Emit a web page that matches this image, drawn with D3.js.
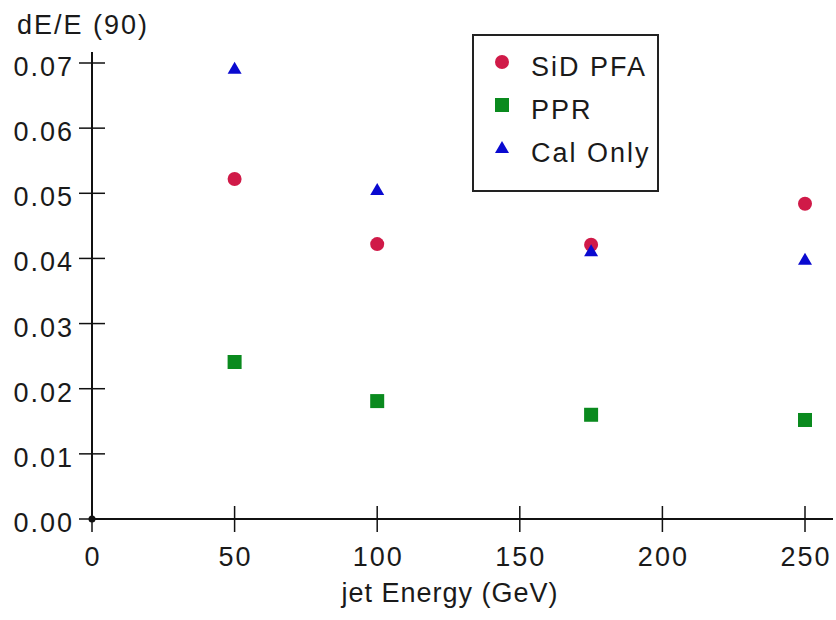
<!DOCTYPE html>
<html>
<head>
<meta charset="utf-8">
<script src="https://cdn.jsdelivr.net/npm/d3@7"></script>
<style>
  body { margin: 0; background: #fff; }
  text { font-family: "Liberation Sans", Arial, sans-serif; fill: #1a1a1a; letter-spacing: 2px; }
</style>
</head>
<body>
<div id="chart"></div>
<script>
// données
const energies = [50, 100, 175, 250];
const sidPfa = [0.0522, 0.0422, 0.0421, 0.0484];
const ppr = [0.0241, 0.0181, 0.0160, 0.0152];
const calOnly = [0.0691, 0.0505, 0.0411, 0.0398];
const xTicks = [0, 50, 100, 150, 200, 250];
const yTicks = [0, 0.01, 0.02, 0.03, 0.04, 0.05, 0.06, 0.07];

const series = [
  { name: 'SiD PFA', values: sidPfa, color: '#d01a48', shape: 'circle' },
  { name: 'PPR', values: ppr, color: '#0a8a1e', shape: 'square' },
  { name: 'Cal Only', values: calOnly, color: '#0a0ad0', shape: 'triangle' }
];

const width = 836, height = 620;
const fontSize = 27;

const svg = d3.select('#chart').append('svg')
  .attr('width', width)
  .attr('height', height);

const x = d3.scaleLinear().domain([0, 250]).range([92, 805]);
const y = d3.scaleLinear().domain([0, 0.07]).range([519, 63]);

// axes
svg.append('line')
  .attr('x1', x(0)).attr('x2', 833)
  .attr('y1', y(0)).attr('y2', y(0))
  .attr('stroke', '#111').attr('stroke-width', 2);
svg.append('line')
  .attr('x1', x(0)).attr('x2', x(0))
  .attr('y1', y(0)).attr('y2', 52)
  .attr('stroke', '#111').attr('stroke-width', 2);

// graduations x
const xt = svg.append('g');
xt.selectAll('line').data(xTicks).enter().append('line')
  .attr('x1', d => x(d)).attr('x2', d => x(d))
  .attr('y1', y(0) - 13).attr('y2', y(0) + 13)
  .attr('stroke', '#111').attr('stroke-width', 1.5);
xt.selectAll('text').data(xTicks).enter().append('text')
  .attr('x', d => x(d) + 1).attr('y', 566)
  .attr('text-anchor', 'middle')
  .attr('font-size', fontSize)
  .text(d => d);

// graduations y
const yt = svg.append('g');
yt.selectAll('line').data(yTicks).enter().append('line')
  .attr('x1', x(0) - 13).attr('x2', x(0) + 13)
  .attr('y1', d => y(d)).attr('y2', d => y(d))
  .attr('stroke', '#111').attr('stroke-width', 1.5);
yt.selectAll('text').data(yTicks).enter().append('text')
  .attr('x', 74).attr('y', d => y(d) + 13)
  .attr('text-anchor', 'end')
  .attr('font-size', fontSize)
  .text(d => d3.format('.2f')(d));

svg.append('circle')
  .attr('cx', x(0)).attr('cy', y(0)).attr('r', 3.5)
  .attr('fill', '#111');

// titres
svg.append('text')
  .attr('x', 17).attr('y', 34)
  .attr('font-size', fontSize)
  .text('dE/E (90)');
svg.append('text')
  .attr('x', 450).attr('y', 602)
  .attr('text-anchor', 'middle')
  .attr('font-size', fontSize)
  .style('letter-spacing', '1px')
  .text('jet Energy (GeV)');

// dessiner un marqueur selon la forme
const drawMarker = (g, shape, color, cx, cy) => {
  if (shape === 'circle') {
    g.append('circle').attr('cx', cx).attr('cy', cy).attr('r', 7).attr('fill', color);
  } else if (shape === 'square') {
    g.append('rect').attr('x', cx - 7).attr('y', cy - 7)
      .attr('width', 14).attr('height', 14).attr('fill', color);
  } else {
    g.append('path')
      .attr('d', `M${cx},${cy - 7}L${cx + 7},${cy + 5}L${cx - 7},${cy + 5}Z`)
      .attr('fill', color);
  }
};

// points
const marks = svg.append('g');
series.forEach(s => {
  s.values.forEach((v, i) => {
    drawMarker(marks, s.shape, s.color, x(energies[i]), y(v));
  });
});

// légende
const legend = svg.append('g');
legend.append('rect')
  .attr('x', 473).attr('y', 35)
  .attr('width', 185).attr('height', 156)
  .attr('fill', '#fff').attr('stroke', '#222').attr('stroke-width', 2);
series.forEach((s, i) => {
  const ly = 62 + i * 43;
  drawMarker(legend, s.shape, s.color, 502, ly);
  legend.append('text')
    .attr('x', 531).attr('y', ly + 14)
    .attr('font-size', fontSize)
    .text(s.name);
});
</script>
</body>
</html>
